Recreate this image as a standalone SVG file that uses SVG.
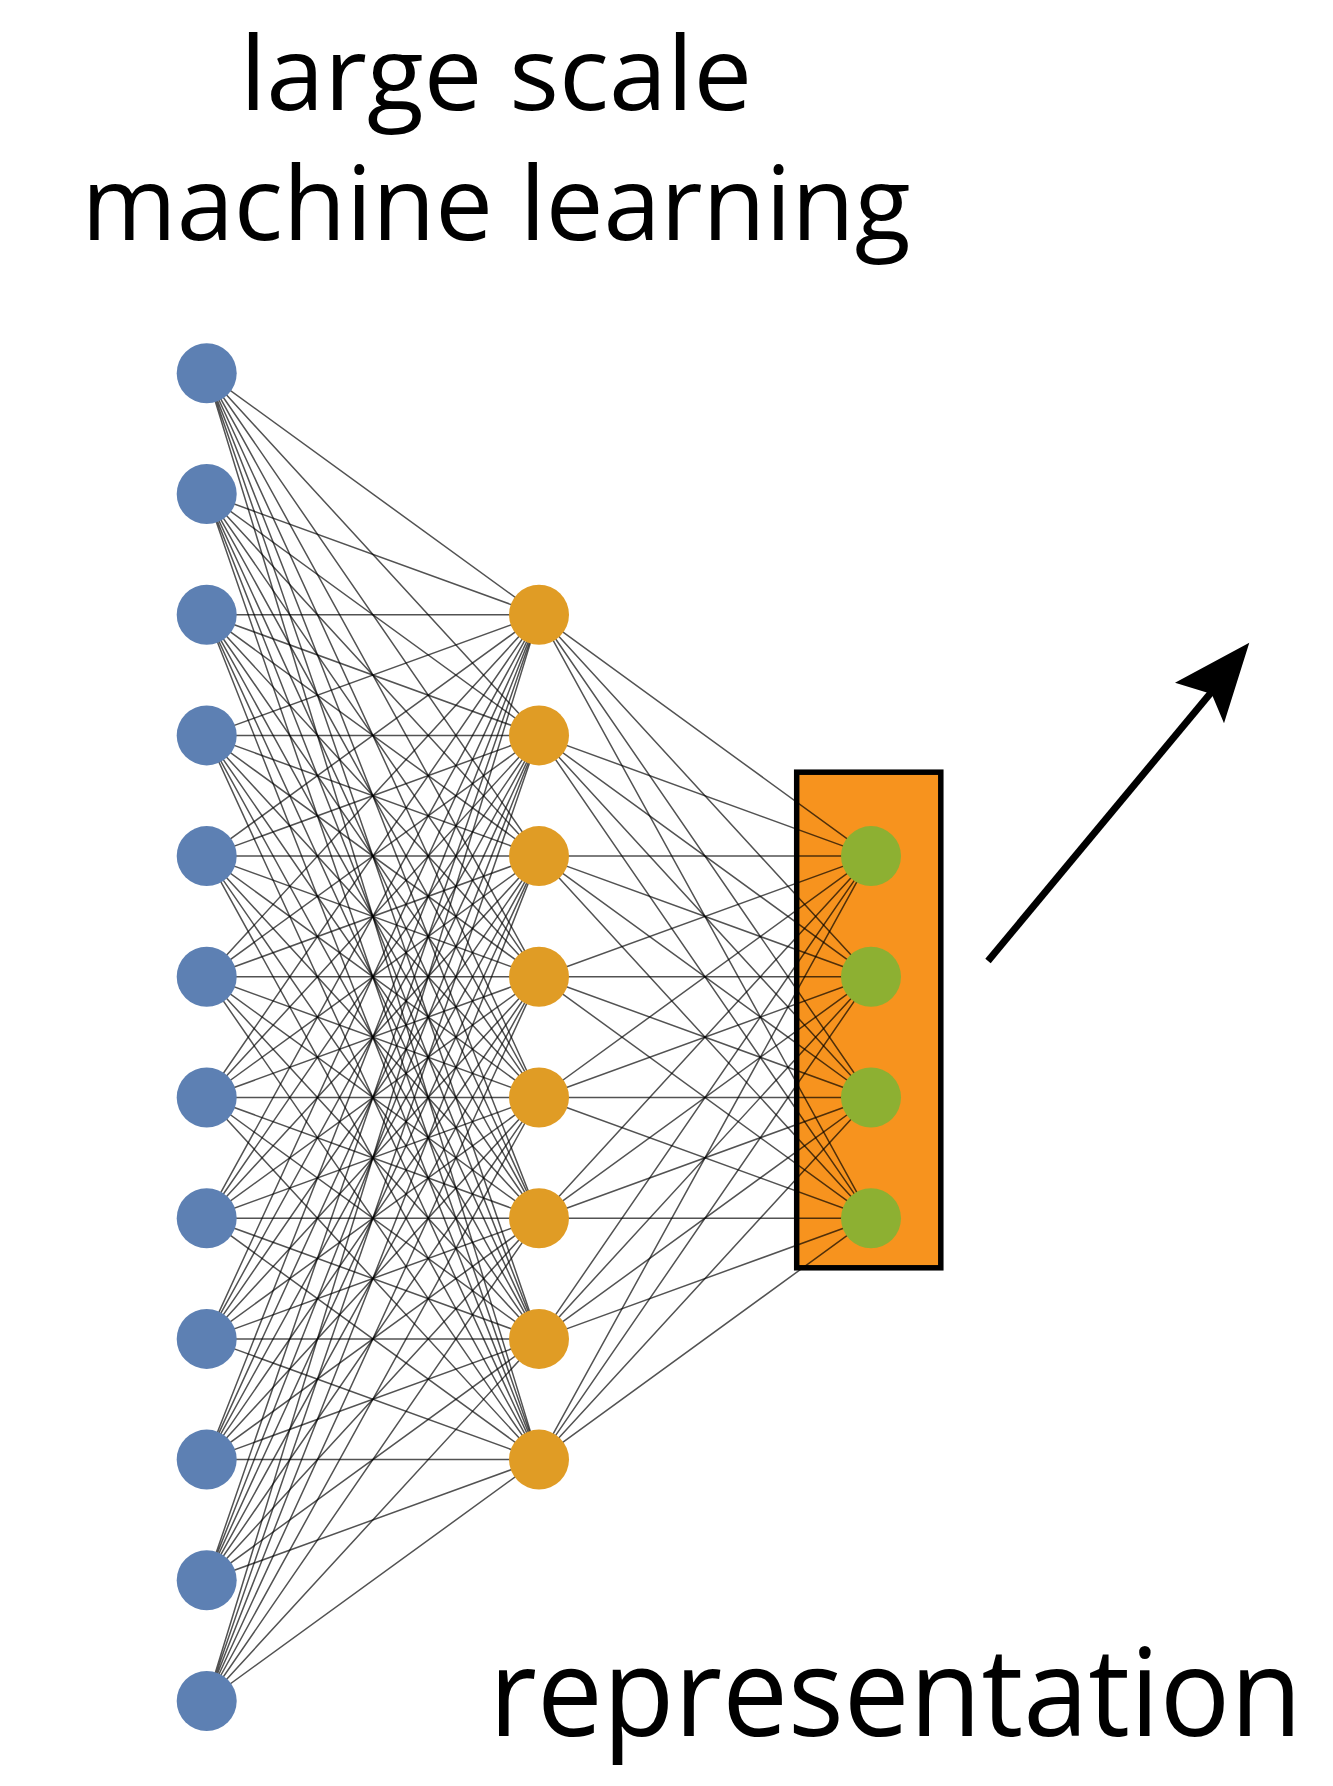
<svg xmlns="http://www.w3.org/2000/svg" width="1333" height="1786" viewBox="0 0 1333 1786">
  <style>
    .label { font-family: "Open Sans", "Noto Sans", "Liberation Sans", sans-serif; fill: #000; }
    .edge { fill: none; stroke: #000; stroke-opacity: 0.68; stroke-width: 1.5; }
    .in { fill: #5D80B3; }
    .hid { fill: #E09C25; }
    .out { fill: #8DB032; }
  </style>

  <rect width="1333" height="1786" fill="#fff"/>

  <!-- titles -->
  <text class="label" x="496" y="110" font-size="102" text-anchor="middle" textLength="512" lengthAdjust="spacingAndGlyphs">large scale</text>
  <text class="label" x="496" y="240" font-size="102" text-anchor="middle" textLength="829" lengthAdjust="spacingAndGlyphs">machine learning</text>
  <text class="label" x="489" y="1736" font-size="122" fill="#231f20" textLength="813" lengthAdjust="spacingAndGlyphs">representation</text>

  <!-- highlighted representation layer -->
  <g id="representation-box">
    <rect x="796.7" y="772.2" width="144.1" height="495.6" fill="#F7931E" stroke="#000" stroke-width="5.5"/>
  </g>

  <!-- connectors -->
  <g id="connectors">
    <g id="input-to-hidden">
      <path class="edge" d="M206.7 373.3L539 614.7M206.7 373.3L539 735.4M206.7 373.3L539 856.1M206.7 373.3L539 976.8M206.7 373.3L539 1097.5M206.7 373.3L539 1218.2M206.7 373.3L539 1338.9M206.7 373.3L539 1459.6"/>
      <path class="edge" d="M206.7 494L539 614.7M206.7 494L539 735.4M206.7 494L539 856.1M206.7 494L539 976.8M206.7 494L539 1097.5M206.7 494L539 1218.2M206.7 494L539 1338.9M206.7 494L539 1459.6"/>
      <path class="edge" d="M206.7 614.7L539 614.7M206.7 614.7L539 735.4M206.7 614.7L539 856.1M206.7 614.7L539 976.8M206.7 614.7L539 1097.5M206.7 614.7L539 1218.2M206.7 614.7L539 1338.9M206.7 614.7L539 1459.6"/>
      <path class="edge" d="M206.7 735.4L539 614.7M206.7 735.4L539 735.4M206.7 735.4L539 856.1M206.7 735.4L539 976.8M206.7 735.4L539 1097.5M206.7 735.4L539 1218.2M206.7 735.4L539 1338.9M206.7 735.4L539 1459.6"/>
      <path class="edge" d="M206.7 856.1L539 614.7M206.7 856.1L539 735.4M206.7 856.1L539 856.1M206.7 856.1L539 976.8M206.7 856.1L539 1097.5M206.7 856.1L539 1218.2M206.7 856.1L539 1338.9M206.7 856.1L539 1459.6"/>
      <path class="edge" d="M206.7 976.8L539 614.7M206.7 976.8L539 735.4M206.7 976.8L539 856.1M206.7 976.8L539 976.8M206.7 976.8L539 1097.5M206.7 976.8L539 1218.2M206.7 976.8L539 1338.9M206.7 976.8L539 1459.6"/>
      <path class="edge" d="M206.7 1097.5L539 614.7M206.7 1097.5L539 735.4M206.7 1097.5L539 856.1M206.7 1097.5L539 976.8M206.7 1097.5L539 1097.5M206.7 1097.5L539 1218.2M206.7 1097.5L539 1338.9M206.7 1097.5L539 1459.6"/>
      <path class="edge" d="M206.7 1218.2L539 614.7M206.7 1218.2L539 735.4M206.7 1218.2L539 856.1M206.7 1218.2L539 976.8M206.7 1218.2L539 1097.5M206.7 1218.2L539 1218.2M206.7 1218.2L539 1338.9M206.7 1218.2L539 1459.6"/>
      <path class="edge" d="M206.7 1338.9L539 614.7M206.7 1338.9L539 735.4M206.7 1338.9L539 856.1M206.7 1338.9L539 976.8M206.7 1338.9L539 1097.5M206.7 1338.9L539 1218.2M206.7 1338.9L539 1338.9M206.7 1338.9L539 1459.6"/>
      <path class="edge" d="M206.7 1459.6L539 614.7M206.7 1459.6L539 735.4M206.7 1459.6L539 856.1M206.7 1459.6L539 976.8M206.7 1459.6L539 1097.5M206.7 1459.6L539 1218.2M206.7 1459.6L539 1338.9M206.7 1459.6L539 1459.6"/>
      <path class="edge" d="M206.7 1580.3L539 614.7M206.7 1580.3L539 735.4M206.7 1580.3L539 856.1M206.7 1580.3L539 976.8M206.7 1580.3L539 1097.5M206.7 1580.3L539 1218.2M206.7 1580.3L539 1338.9M206.7 1580.3L539 1459.6"/>
      <path class="edge" d="M206.7 1701L539 614.7M206.7 1701L539 735.4M206.7 1701L539 856.1M206.7 1701L539 976.8M206.7 1701L539 1097.5M206.7 1701L539 1218.2M206.7 1701L539 1338.9M206.7 1701L539 1459.6"/>
    </g>
    <g id="hidden-to-output">
      <path class="edge" d="M539 614.7L871 856.1M539 614.7L871 976.8M539 614.7L871 1097.5M539 614.7L871 1218.2"/>
      <path class="edge" d="M539 735.4L871 856.1M539 735.4L871 976.8M539 735.4L871 1097.5M539 735.4L871 1218.2"/>
      <path class="edge" d="M539 856.1L871 856.1M539 856.1L871 976.8M539 856.1L871 1097.5M539 856.1L871 1218.2"/>
      <path class="edge" d="M539 976.8L871 856.1M539 976.8L871 976.8M539 976.8L871 1097.5M539 976.8L871 1218.2"/>
      <path class="edge" d="M539 1097.5L871 856.1M539 1097.5L871 976.8M539 1097.5L871 1097.5M539 1097.5L871 1218.2"/>
      <path class="edge" d="M539 1218.2L871 856.1M539 1218.2L871 976.8M539 1218.2L871 1097.5M539 1218.2L871 1218.2"/>
      <path class="edge" d="M539 1338.9L871 856.1M539 1338.9L871 976.8M539 1338.9L871 1097.5M539 1338.9L871 1218.2"/>
      <path class="edge" d="M539 1459.6L871 856.1M539 1459.6L871 976.8M539 1459.6L871 1097.5M539 1459.6L871 1218.2"/>
    </g>
    <!-- outgoing arrow -->
    <g id="output-arrow">
      <line x1="988" y1="961" x2="1214" y2="689" stroke="#000" stroke-width="7"/>
      <polygon points="1249.3,642.7 1175,682.7 1211.7,694 1224,723.3" fill="#000"/>
    </g>
  </g>

  <!-- input layer -->
  <g id="input-layer">
    <circle id="in-1" class="in" cx="206.7" cy="373.3" r="30"/>
    <circle id="in-2" class="in" cx="206.7" cy="494" r="30"/>
    <circle id="in-3" class="in" cx="206.7" cy="614.7" r="30"/>
    <circle id="in-4" class="in" cx="206.7" cy="735.4" r="30"/>
    <circle id="in-5" class="in" cx="206.7" cy="856.1" r="30"/>
    <circle id="in-6" class="in" cx="206.7" cy="976.8" r="30"/>
    <circle id="in-7" class="in" cx="206.7" cy="1097.5" r="30"/>
    <circle id="in-8" class="in" cx="206.7" cy="1218.2" r="30"/>
    <circle id="in-9" class="in" cx="206.7" cy="1338.9" r="30"/>
    <circle id="in-10" class="in" cx="206.7" cy="1459.6" r="30"/>
    <circle id="in-11" class="in" cx="206.7" cy="1580.3" r="30"/>
    <circle id="in-12" class="in" cx="206.7" cy="1701" r="30"/>
  </g>

  <!-- hidden layer -->
  <g id="hidden-layer">
    <circle id="hid-1" class="hid" cx="539" cy="614.7" r="30"/>
    <circle id="hid-2" class="hid" cx="539" cy="735.4" r="30"/>
    <circle id="hid-3" class="hid" cx="539" cy="856.1" r="30"/>
    <circle id="hid-4" class="hid" cx="539" cy="976.8" r="30"/>
    <circle id="hid-5" class="hid" cx="539" cy="1097.5" r="30"/>
    <circle id="hid-6" class="hid" cx="539" cy="1218.2" r="30"/>
    <circle id="hid-7" class="hid" cx="539" cy="1338.9" r="30"/>
    <circle id="hid-8" class="hid" cx="539" cy="1459.6" r="30"/>
  </g>

  <!-- representation layer -->
  <g id="output-layer">
    <circle id="out-1" class="out" cx="871" cy="856.1" r="30"/>
    <circle id="out-2" class="out" cx="871" cy="976.8" r="30"/>
    <circle id="out-3" class="out" cx="871" cy="1097.5" r="30"/>
    <circle id="out-4" class="out" cx="871" cy="1218.2" r="30"/>
  </g>
</svg>
